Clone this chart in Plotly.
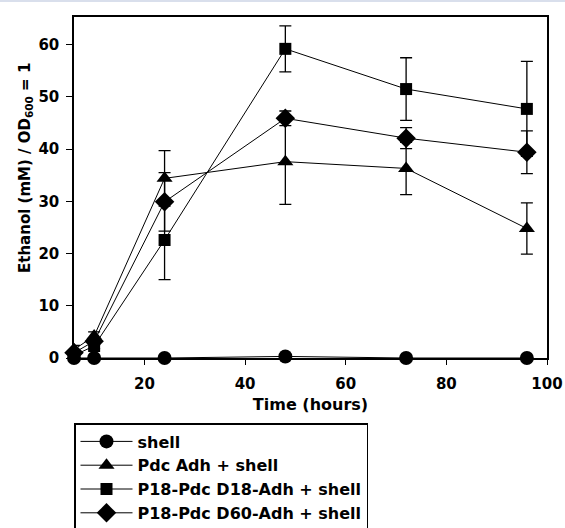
import plotly.graph_objects as go

time_h = [6, 10, 24, 48, 72, 96]

shell = [0.0, 0.0, 0.0, 0.3, 0.0, 0.0]
shell_err = [0.0, 0.0, 0.0, 0.0, 0.0, 0.0]

pdc_adh = [1.6, 4.2, 34.4, 37.6, 36.3, 24.8]
pdc_adh_err = [0.8, 0.8, 5.3, 8.2, 5.0, 4.9]

d18_adh = [0.5, 2.3, 22.6, 59.2, 51.5, 47.7]
d18_adh_err = [0.4, 0.5, 7.6, 4.4, 6.0, 9.1]

d60_adh = [1.0, 3.2, 29.9, 45.9, 42.1, 39.4]
d60_adh_err = [0.5, 0.7, 5.6, 1.4, 2.0, 4.1]

series_names = ["shell", "Pdc Adh + shell", "P18-Pdc D18-Adh + shell", "P18-Pdc D60-Adh + shell"]
series_vals = [shell, pdc_adh, d18_adh, d60_adh]
series_errs = [shell_err, pdc_adh_err, d18_adh_err, d60_adh_err]
symbols = ["circle", "triangle-up", "square", "diamond"]
sizes = [14, 14, 12, 15]

y_ticks = [0, 10, 20, 30, 40, 50, 60]
x_ticks = [20, 40, 60, 80, 100]

FONT = "DejaVu Sans, Liberation Sans, Arial, sans-serif"

fig = go.Figure()
for name, vals, errs, sym, sz in zip(series_names, series_vals, series_errs, symbols, sizes):
    fig.add_trace(go.Scatter(
        x=time_h, y=vals, name=name, mode="lines+markers",
        line=dict(color="black", width=1),
        marker=dict(symbol=sym, size=sz, color="black"),
        error_y=dict(type="data", array=errs, visible=True, color="black",
                     thickness=1.3, width=6),
        cliponaxis=False,
    ))

W, H = 565, 528
L, R, T, B = 74, 18, 17, 170
ph = H - T - B
pw = W - L - R
y0px = H - B  # pixel row of the plot bottom


def py(p):
    """page pixel row -> paper y"""
    return (y0px - p) / ph


def px(p):
    """page pixel column -> paper x"""
    return (p - L) / pw


fig.update_layout(
    width=W, height=H,
    margin=dict(l=L, r=R, t=T, b=B, pad=0, autoexpand=False),
    paper_bgcolor="white", plot_bgcolor="white",
    font=dict(family=FONT, size=16, color="black", weight="bold"),
    showlegend=True,
    legend=dict(
        x=0, y=py(423), xanchor="left", yanchor="top",
        bordercolor="black", borderwidth=1.5, bgcolor="white",
        font=dict(family=FONT, size=16, color="black", weight="bold"),
        tracegroupgap=0, itemwidth=52,
    ),
    xaxis=dict(
        range=[6, 100], tickvals=x_ticks, ticktext=[str(v) for v in x_ticks],
        showgrid=False, zeroline=False,
        showline=True, linecolor="black", linewidth=1.5, mirror=True,
        ticks="outside", ticklen=5, tickwidth=1, tickcolor="black",
        ticklabelstandoff=6,
        tickfont=dict(family=FONT, size=15, color="black", weight="bold"),
        title=dict(text="Time (hours)", standoff=7,
                   font=dict(family=FONT, size=16, color="black", weight="bold")),
    ),
    yaxis=dict(
        range=[0, 65.3], tickvals=y_ticks, ticktext=[str(v) for v in y_ticks],
        showgrid=False, zeroline=False,
        showline=True, linecolor="black", linewidth=1.5, mirror=True,
        ticks="outside", ticklen=6, tickwidth=1, tickcolor="black",
        ticklabelstandoff=4,
        tickfont=dict(family=FONT, size=15, color="black", weight="bold"),
    ),
    annotations=[dict(
        text="Ethanol (mM) / OD<sub>600</sub> = 1", textangle=-90,
        xref="paper", yref="paper", x=px(25), y=py(168),
        xanchor="center", yanchor="middle", showarrow=False,
        font=dict(family=FONT, size=15, color="black", weight="bold"),
    )],
    shapes=[dict(type="rect", xref="paper", yref="paper",
                 x0=-L / pw, x1=(W - L) / pw,
                 y0=py(2), y1=py(0),
                 fillcolor="#d9dfec", line=dict(width=0), layer="below")],
)

fig.write_html("out.html", config={"displayModeBar": False},
               post_script="document.body.style.margin='0px';")
